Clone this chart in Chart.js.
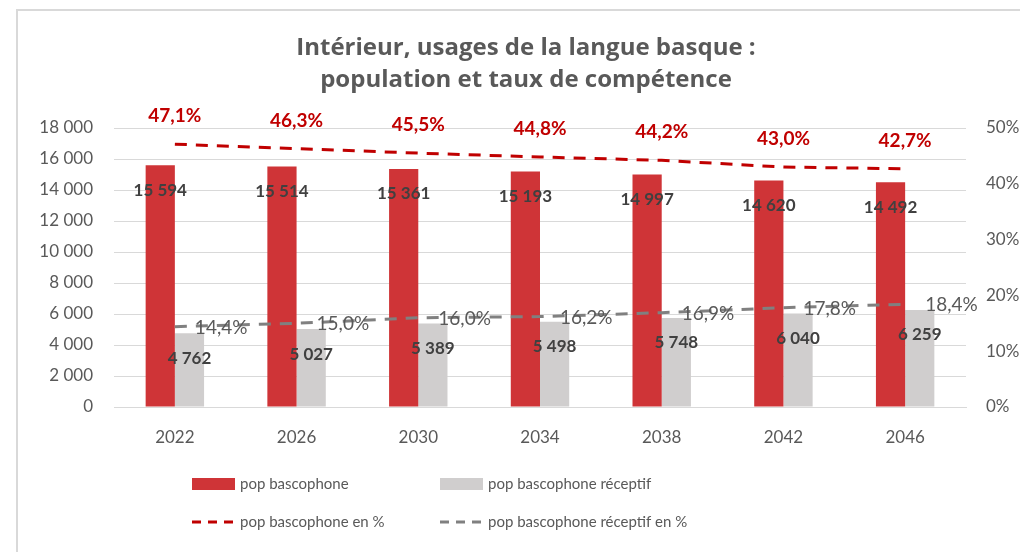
<!DOCTYPE html>
<html>
<head>
<meta charset="utf-8">
<script src="https://cdn.jsdelivr.net/npm/chart.js@4"></script>
<style>
  html, body { margin: 0; padding: 0; background: #fff; }
  #wrap { width: 1020px; height: 552px; }
</style>
</head>
<body>
<div id="wrap"><canvas id="basqueChart" width="1020" height="552"></canvas></div>
<script>
const years = ['2022', '2026', '2030', '2034', '2038', '2042', '2046'];
const popBascophone = [15594, 15514, 15361, 15193, 14997, 14620, 14492];
const popReceptif = [4762, 5027, 5389, 5498, 5748, 6040, 6259];
const pctBascophone = [47.1, 46.3, 45.5, 44.8, 44.2, 43.0, 42.7];
const pctReceptif = [14.4, 15.0, 16.0, 16.2, 16.9, 17.8, 18.4];
const titleLines = ['Intérieur, usages de la langue basque :', 'population et taux de compétence'];

const FONT = 'Lato, "Open Sans", sans-serif';
const GRAY_TXT = '#595959';

function fmtNum(v) {
    return String(Math.round(v)).replace(/\B(?=(\d{3})+(?!\d))/g, ' ');
}
function fmtPct(v) {
    return v.toFixed(1).replace('.', ',') + '%';
}

// frame, title, data labels and legend drawn on the canvas
const extras = {
    id: 'extras',
    beforeDraw(chart) {
        const c = chart.ctx;
        c.save();
        c.strokeStyle = '#D9D9D9';
        c.lineWidth = 2;
        c.beginPath();
        c.moveTo(17, 552);
        c.lineTo(17, 10);
        c.lineTo(1020, 10);
        c.stroke();
        c.restore();
    },
    afterDatasetsDraw(chart) {
        const c = chart.ctx;
        c.save();
        // title
        c.fillStyle = GRAY_TXT;
        c.font = 'bold 24px "Open Sans", sans-serif';
        c.textAlign = 'center';
        c.textBaseline = 'middle';
        c.fillText(titleLines[0], 526, 48);
        c.fillText(titleLines[1], 526, 80);

        // bar values
        c.font = 'bold 17px ' + FONT;
        c.fillStyle = '#404040';
        [0, 1].forEach(di => {
            const meta = chart.getDatasetMeta(di);
            meta.data.forEach((el, i) => {
                c.fillText(fmtNum(chart.data.datasets[di].data[i]), el.x, el.y + 25);
            });
        });

        // red percentages above the line
        c.font = 'bold 19px ' + FONT;
        c.fillStyle = '#C00000';
        chart.getDatasetMeta(2).data.forEach((el, i) => {
            c.fillText(fmtPct(pctBascophone[i]), el.x, el.y - 28);
        });

        // grey percentages right of the line
        c.font = '19px ' + FONT;
        c.fillStyle = GRAY_TXT;
        c.textAlign = 'left';
        chart.getDatasetMeta(3).data.forEach((el, i) => {
            c.fillText(fmtPct(pctReceptif[i]), el.x + 20, el.y + 1);
        });

        // legend, 2 x 2
        const ds = chart.data.datasets;
        const slots = [[192, 484], [440, 484], [192, 522], [440, 522]];
        c.font = '15px ' + FONT;
        c.textBaseline = 'middle';
        ds.forEach((d, i) => {
            const [x, y] = slots[i];
            if (d.type === 'line') {
                c.strokeStyle = d.borderColor;
                c.lineWidth = 3;
                c.setLineDash([9, 7]);
                c.beginPath();
                c.moveTo(x, y);
                c.lineTo(x + 43, y);
                c.stroke();
                c.setLineDash([]);
            } else {
                c.fillStyle = d.backgroundColor;
                c.fillRect(x, y - 6, 43, 12);
            }
            c.fillStyle = GRAY_TXT;
            c.fillText(d.label, x + 48, y);
        });
        c.restore();
    }
};

const ctx = document.getElementById('basqueChart').getContext('2d');
const basqueChart = new Chart(ctx, {
    data: {
        labels: years,
        datasets: [{
            type: 'bar',
            label: 'pop bascophone',
            data: popBascophone,
            backgroundColor: '#CF3437',
            yAxisID: 'y',
            order: 2,
            categoryPercentage: 0.48,
            barPercentage: 1.0
        }, {
            type: 'bar',
            label: 'pop bascophone réceptif',
            data: popReceptif,
            backgroundColor: '#D0CECE',
            yAxisID: 'y',
            order: 2,
            categoryPercentage: 0.48,
            barPercentage: 1.0
        }, {
            type: 'line',
            label: 'pop bascophone en %',
            data: pctBascophone,
            borderColor: '#C00000',
            borderWidth: 3,
            borderDash: [12, 9],
            pointRadius: 0,
            fill: false,
            yAxisID: 'y1',
            order: 1
        }, {
            type: 'line',
            label: 'pop bascophone réceptif en %',
            data: pctReceptif,
            borderColor: '#808080',
            borderWidth: 3,
            borderDash: [12, 9],
            pointRadius: 0,
            fill: false,
            yAxisID: 'y1',
            order: 1
        }]
    },
    options: {
        responsive: false,
        animation: false,
        layout: { padding: { top: 128, left: 0, right: 0, bottom: 0 } },
        plugins: {
            legend: { display: false },
            title: { display: false },
            tooltip: { enabled: false }
        },
        scales: {
            x: {
                grid: { display: false, drawTicks: false },
                border: { display: true, color: '#D9D9D9' },
                ticks: { color: GRAY_TXT, font: { family: FONT, size: 17 }, padding: 20 },
                afterFit(scale) { scale.height = 145; }
            },
            y: {
                position: 'left',
                min: 0,
                max: 18000,
                ticks: {
                    stepSize: 2000,
                    color: GRAY_TXT,
                    font: { family: FONT, size: 17 },
                    padding: 21,
                    callback: v => fmtNum(v)
                },
                grid: { color: '#D9D9D9', lineWidth: 1, drawTicks: false },
                border: { display: false },
                afterFit(scale) { scale.width = 114; }
            },
            y1: {
                position: 'right',
                min: 0,
                max: 50,
                ticks: {
                    stepSize: 10,
                    color: GRAY_TXT,
                    font: { family: FONT, size: 17 },
                    padding: 20,
                    callback: v => v + '%'
                },
                grid: { display: false, drawTicks: false },
                border: { display: false },
                afterFit(scale) { scale.width = 54; }
            }
        }
    },
    plugins: [extras]
});
</script>
</body>
</html>
